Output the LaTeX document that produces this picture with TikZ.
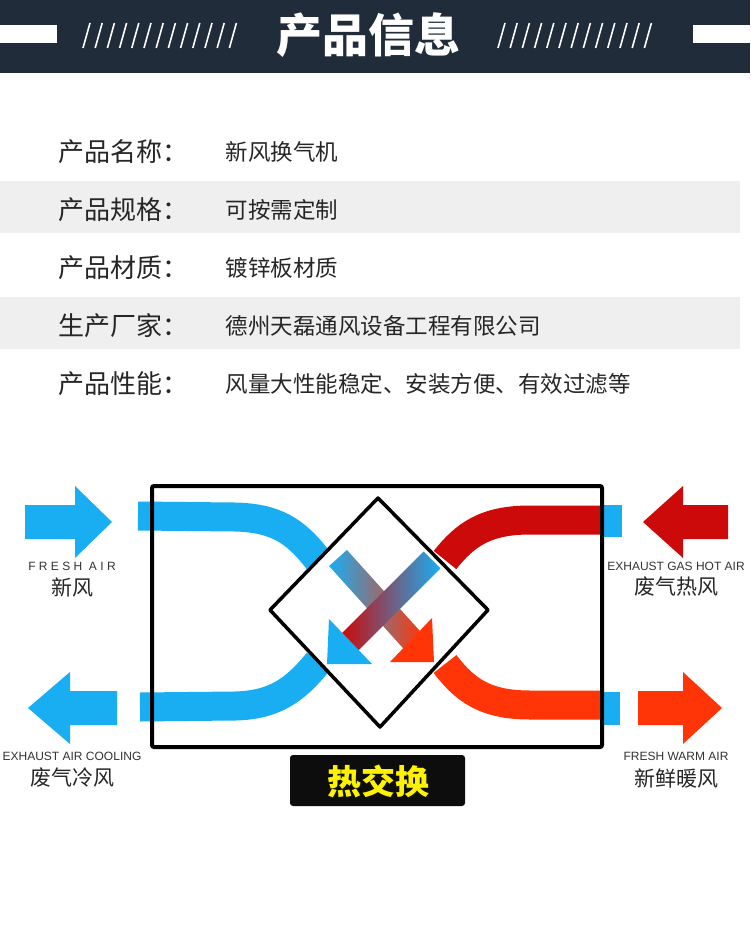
\documentclass[tikz,border=0pt]{standalone}
\usepackage{fontspec}
\setmainfont{Noto Sans CJK SC}
\newfontfamily\latf{Liberation Sans}
\begin{document}
\begin{tikzpicture}[x=1pt,y=-1pt,
  lab/.style={anchor=west,font=\fontsize{26}{26}\selectfont,text=black!85},
  val/.style={anchor=west,font=\fontsize{22.5}{22.5}\selectfont,text=black!85},
  en/.style={font=\latf\fontsize{12}{12}\selectfont,text=black!80},
  cn/.style={font=\fontsize{21}{21}\selectfont,text=black!85},
  band/.style={line width=29pt}]
\definecolor{navy}{HTML}{202C3A}
\definecolor{sky}{HTML}{19AEF2}
\definecolor{dred}{HTML}{CC0A0A}
\definecolor{ored}{HTML}{FF3508}
\definecolor{stripe}{HTML}{EFEFEF}
\useasboundingbox (0,0) rectangle (750,947);
\fill[white] (0,0) rectangle (750,947);
% header
\fill[navy] (0,0) rectangle (750,73);
\fill[white] (0,25) rectangle (57,43);
\fill[white] (693,25) rectangle (750,43);
\foreach \i in {0,...,12}{
  \draw[white,line width=1.6pt] (90+12.2*\i,23) -- (83+12.2*\i,48);
  \draw[white,line width=1.6pt] (505+12.2*\i,23) -- (498+12.2*\i,48);
}
\node[text=white,font=\bfseries\fontsize{46}{46}\selectfont] (title) at (368,35) {产品信息};
% table
\fill[stripe] (0,181) rectangle (740,233);
\fill[stripe] (0,297) rectangle (740,349);
\node[lab] (l1) at (55,152) {产品名称：};
\node[lab] (l2) at (55,210) {产品规格：};
\node[lab] (l3) at (55,268) {产品材质：};
\node[lab] (l4) at (55,326) {生产厂家：};
\node[lab] (l5) at (55,384) {产品性能：};
\node[val] (v1) at (222,152) {新风换气机};
\node[val] (v2) at (222,210) {可按需定制};
\node[val] (v3) at (222,268) {镀锌板材质};
\node[val] (v4) at (222,326) {德州天磊通风设备工程有限公司};
\node[val] (v5) at (222,384) {风量大性能稳定、安装方便、有效过滤等};
% side blue stubs
\fill[sky] (600,505) rectangle (622,537);
\fill[sky] (600,692) rectangle (620,725);
% bands
\draw[sky,band] (138,516) -- (235,517) .. controls (275,518) and (295,530) .. (318,560);
\draw[sky,band] (140,707) -- (235,706) .. controls (275,705) and (295,690) .. (318,662);
\draw[dred,band] (602,520) -- (530,520) .. controls (485,520) and (465,535) .. (445,560);
\draw[ored,band] (602,705) -- (530,705) .. controls (485,705) and (465,690) .. (445,664);
% box and diamond
\draw[black,line width=4pt,rounded corners=2pt] (152,486) rectangle (602,747);
\draw[black,line width=3.5pt,fill=white,line join=round] (378,498) -- (488,610) -- (380,727) -- (270,610) -- cycle;
% inner arrows
\begin{scope}[shift={(338,558)},rotate=-48]
  \shade[left color=sky,right color=ored] (0,-12) rectangle (114,12);
\end{scope}
\fill[ored] (434,662) -- (390,662) -- (432,618) -- cycle;
\begin{scope}[shift={(432,560)},rotate=-135]
  \shade[left color=dred,right color=sky] (0,-12) rectangle (116,12);
\end{scope}
\fill[sky] (327,664) -- (372,664) -- (329,619) -- cycle;
% outer arrows
\fill[sky] (25,505) -- (75,505) -- (75,486) -- (112,522) -- (75,558) -- (75,539) -- (25,539) -- cycle;
\fill[sky] (117,691) -- (70,691) -- (70,672) -- (28,708) -- (70,744) -- (70,725) -- (117,725) -- cycle;
\fill[dred] (728,505) -- (683,505) -- (683,486) -- (643,522) -- (683,558) -- (683,539) -- (728,539) -- cycle;
\fill[ored] (638,691) -- (683,691) -- (683,672) -- (722,708) -- (683,744) -- (683,725) -- (638,725) -- cycle;
% labels
\node[en] (e1) at (72,566) {F R E S H\ \ A I R};
\node[cn] (c1) at (72,587) {新风};
\node[en] (e2) at (72,756) {EXHAUST AIR COOLING};
\node[cn] (c2) at (72,778) {废气冷风};
\node[en] (e3) at (676,566) {EXHAUST GAS HOT AIR};
\node[cn] (c3) at (676,587) {废气热风};
\node[en] (e4) at (676,756) {FRESH WARM AIR};
\node[cn] (c4) at (676,778) {新鲜暖风};
% caption
\fill[black!95,rounded corners=3pt] (290,755) rectangle (465,806);
\node[text=yellow,font=\bfseries\fontsize{34}{34}\selectfont] (cap) at (378,781) {热交换};
\end{tikzpicture}
\end{document}
